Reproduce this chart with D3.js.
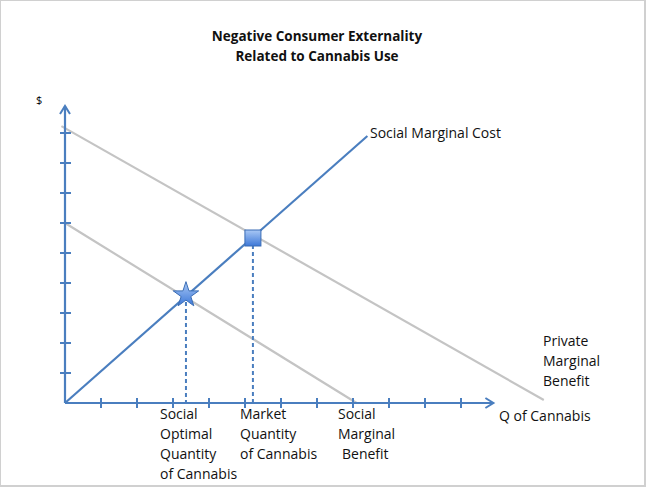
<!DOCTYPE html>
<html><head><meta charset="utf-8">
<script src="https://cdn.jsdelivr.net/npm/d3@7"></script>
<style>body{margin:0;background:#fff;} text{font-family:"Open Sans",sans-serif;}</style>
</head><body><svg id="chart" width="650" height="491"></svg>
<script>
// values in chart units (x: quantity, y: $)
const xTicks = [1,2,3,4,5,6,7,8,9,10,11];
const yTicks = [1,2,3,4,5,6,7,8,9];
const privateBenefit = [[-0.1, 9.23], [13.3, 0.1]];
const socialBenefit = [[0, 6], [8.1, 0]];
const socialCost = [[0, 0], [8.4, 8.9]];
const marketEq = [5.22, 5.5];
const socialEq = [3.36, 3.6];

const svg = d3.select("#chart");
const x = d3.scaleLinear().domain([0, 1]).range([65, 101]);
const y = d3.scaleLinear().domain([0, 1]).range([403, 373]);
const blue = "#4a7ebf";

svg.append("rect").attr("x", 0).attr("y", 0).attr("width", 645).attr("height", 486)
    .attr("fill", "none").attr("stroke", "#d0d0d0").attr("stroke-width", 2);

let defs = svg.append("defs");
defs.append("linearGradient").attr("id", "g").attr("x1", 0).attr("y1", 0).attr("x2", 0).attr("y2", 1)
    .selectAll("stop").data(["#a9c8f5", "#3d78d8"]).enter().append("stop")
    .attr("offset", (d, i) => i).attr("stop-color", d => d);

let line = d3.line().x(d => x(d[0])).y(d => y(d[1]));

// gray benefit lines
[privateBenefit, socialBenefit].forEach(function (d) {
    svg.append("path").attr("d", line(d)).attr("stroke", "#c4c4c4").attr("stroke-width", 2.2).attr("fill", "none");
});

// axes
svg.append("line").attr("x1", x(0)).attr("y1", y(0)).attr("x2", x(11.9)).attr("y2", y(0)).attr("stroke", blue).attr("stroke-width", 2.2);
svg.append("line").attr("x1", x(0)).attr("y1", y(0)).attr("x2", x(0)).attr("y2", y(9.9)).attr("stroke", blue).attr("stroke-width", 2.2);
svg.append("path").attr("d", `M${x(11.9)-8},${y(0)-5}L${x(11.9)},${y(0)}L${x(11.9)-8},${y(0)+5}`).attr("stroke", blue).attr("stroke-width", 2).attr("fill", "none");
svg.append("path").attr("d", `M${x(0)-5},${y(9.9)+8}L${x(0)},${y(9.9)}L${x(0)+5},${y(9.9)+8}`).attr("stroke", blue).attr("stroke-width", 2).attr("fill", "none");
svg.selectAll(".xt").data(xTicks).enter().append("line").attr("x1", d => x(d)).attr("x2", d => x(d))
    .attr("y1", y(0) - 5).attr("y2", y(0) + 5).attr("stroke", blue).attr("stroke-width", 2);
svg.selectAll(".yt").data(yTicks).enter().append("line").attr("y1", d => y(d)).attr("y2", d => y(d))
    .attr("x1", x(0) - 5).attr("x2", x(0) + 6).attr("stroke", blue).attr("stroke-width", 2);

// social marginal cost
svg.append("path").attr("d", line(socialCost)).attr("stroke", blue).attr("stroke-width", 2.2).attr("fill", "none");

// dashed drops
[marketEq, socialEq].forEach(function (p) {
    svg.append("line").attr("x1", x(p[0])).attr("x2", x(p[0])).attr("y1", y(p[1])).attr("y2", y(0))
        .attr("stroke", blue).attr("stroke-width", 2).attr("stroke-dasharray", "4,3");
});

svg.append("rect").attr("x", x(marketEq[0]) - 8).attr("y", y(marketEq[1]) - 8).attr("width", 16).attr("height", 16)
    .attr("fill", "url(#g)").attr("stroke", "#3a6db5").attr("stroke-width", 1);
svg.append("path").attr("d", d3.symbol(d3.symbolStar, 200)())
    .attr("transform", `translate(${x(socialEq[0])},${y(socialEq[1])})`)
    .attr("fill", "url(#g)").attr("stroke", "#3a6db5").attr("stroke-width", 1);

// text
function label(lines, px, py, anchor, weight, size) {
    let t = svg.append("text").attr("x", px).attr("y", py).attr("font-size", size || 14)
        .attr("text-anchor", anchor || "start").attr("font-weight", weight || "normal").attr("fill", "#111");
    lines.forEach(function (s, i) { t.append("tspan").attr("x", px).attr("dy", i ? 20 : 0).text(s); });
}
label(["Negative Consumer Externality", "Related to Cannabis Use"], 317, 41, "middle", "bold", 13.5);
svg.append("text").attr("x", 36).attr("y", 104).attr("font-size", 11).text("$");
label(["Social Marginal Cost"], 370, 138);
label(["Private", "Marginal", "Benefit"], 543, 346);
label(["Social", "Optimal", "Quantity", "of Cannabis"], 160, 419);
label(["Market", "Quantity", "of Cannabis"], 240, 419);
label(["Social", "Marginal"], 338, 419);
label(["Benefit"], 342, 459);
label(["Q of Cannabis"], 499, 421);
</script></body></html>
